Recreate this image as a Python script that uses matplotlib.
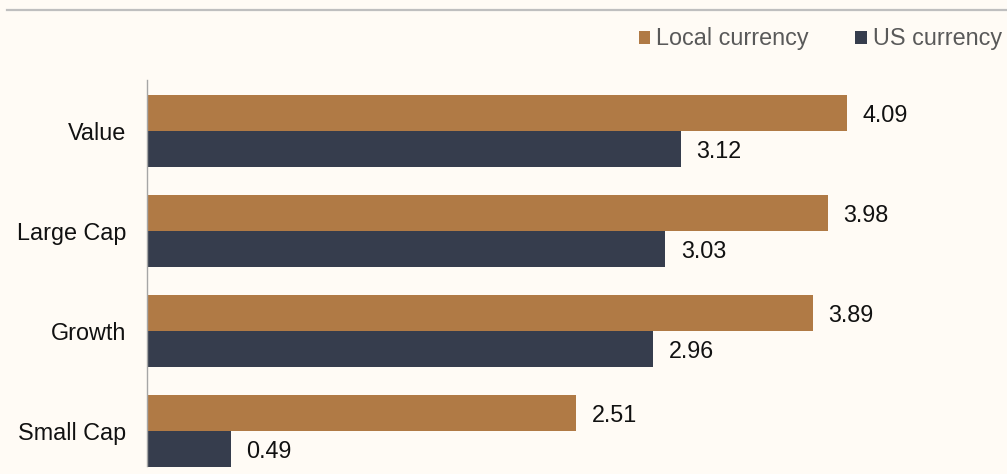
import numpy as np
import matplotlib.pyplot as plt
from matplotlib.lines import Line2D
from matplotlib.patches import Patch

categories = ['Value', 'Large Cap', 'Growth', 'Small Cap']
local_currency = [4.09, 3.98, 3.89, 2.51]
us_currency = [3.12, 3.03, 2.96, 0.49]
series_names = ['Local currency', 'US currency']

plt.rcParams['font.family'] = ['Liberation Sans', 'DejaVu Sans']

bg = '#FFFBF5'
c_local = '#B07A45'
c_us = '#363D4D'
fs = 16.8

W, H = 1007, 474
fig = plt.figure(figsize=(W / 100, H / 100), dpi=100, facecolor=bg)

# axes placed in pixel terms
left, right = 147, 1002
top, bottom = 80, 474
ax = fig.add_axes([left / W, 1 - bottom / H, (right - left) / W, (bottom - top) / H])
ax.set_facecolor(bg)

y = np.arange(len(categories))
h = 0.36
ax.barh(y - h / 2, local_currency, height=h, color=c_local)
ax.barh(y + h / 2, us_currency, height=h, color=c_us)

for yi, v in zip(y, local_currency):
    ax.text(v + 0.09, yi - h / 2, f'{v:.2f}', va='center_baseline', ha='left', fontsize=fs, color='#111111')
for yi, v in zip(y, us_currency):
    ax.text(v + 0.09, yi + h / 2, f'{v:.2f}', va='center_baseline', ha='left', fontsize=fs, color='#111111')

ax.set_xlim(0, (right - left) / 171.1)
# 100 px per category
ax.set_ylim(-0.51 + (bottom - top) / 100, -0.51)
ax.set_yticks(y)
ax.set_yticklabels(categories, fontsize=fs, color='#111111')
for lab in ax.get_yticklabels():
    lab.set_verticalalignment('center_baseline')
ax.tick_params(axis='y', length=0, pad=15)
ax.set_xticks([])
for s in ['top', 'right', 'bottom']:
    ax.spines[s].set_visible(False)
ax.spines['left'].set_color('#A6A6A6')
ax.spines['left'].set_linewidth(1)
ax.spines['left'].set_bounds(-0.51, 3.35)

# top rule
fig.add_artist(Line2D([7 / W, 1.0], [1 - 9.5 / H, 1 - 9.5 / H], color='#BFBFBF', lw=1.6))

handles = [Patch(facecolor=c_local), Patch(facecolor=c_us)]
leg = fig.legend(handles, series_names, loc='center right', bbox_to_anchor=(1002 / W, 1 - 39 / H),
                 ncol=2, frameon=False, fontsize=fs, handlelength=0.5, handleheight=0.5,
                 handletextpad=0.25, columnspacing=2.0, borderaxespad=0, borderpad=0)
for t in leg.get_texts():
    t.set_color('#595959')

fig.savefig('out.png', dpi=100, facecolor=bg)
